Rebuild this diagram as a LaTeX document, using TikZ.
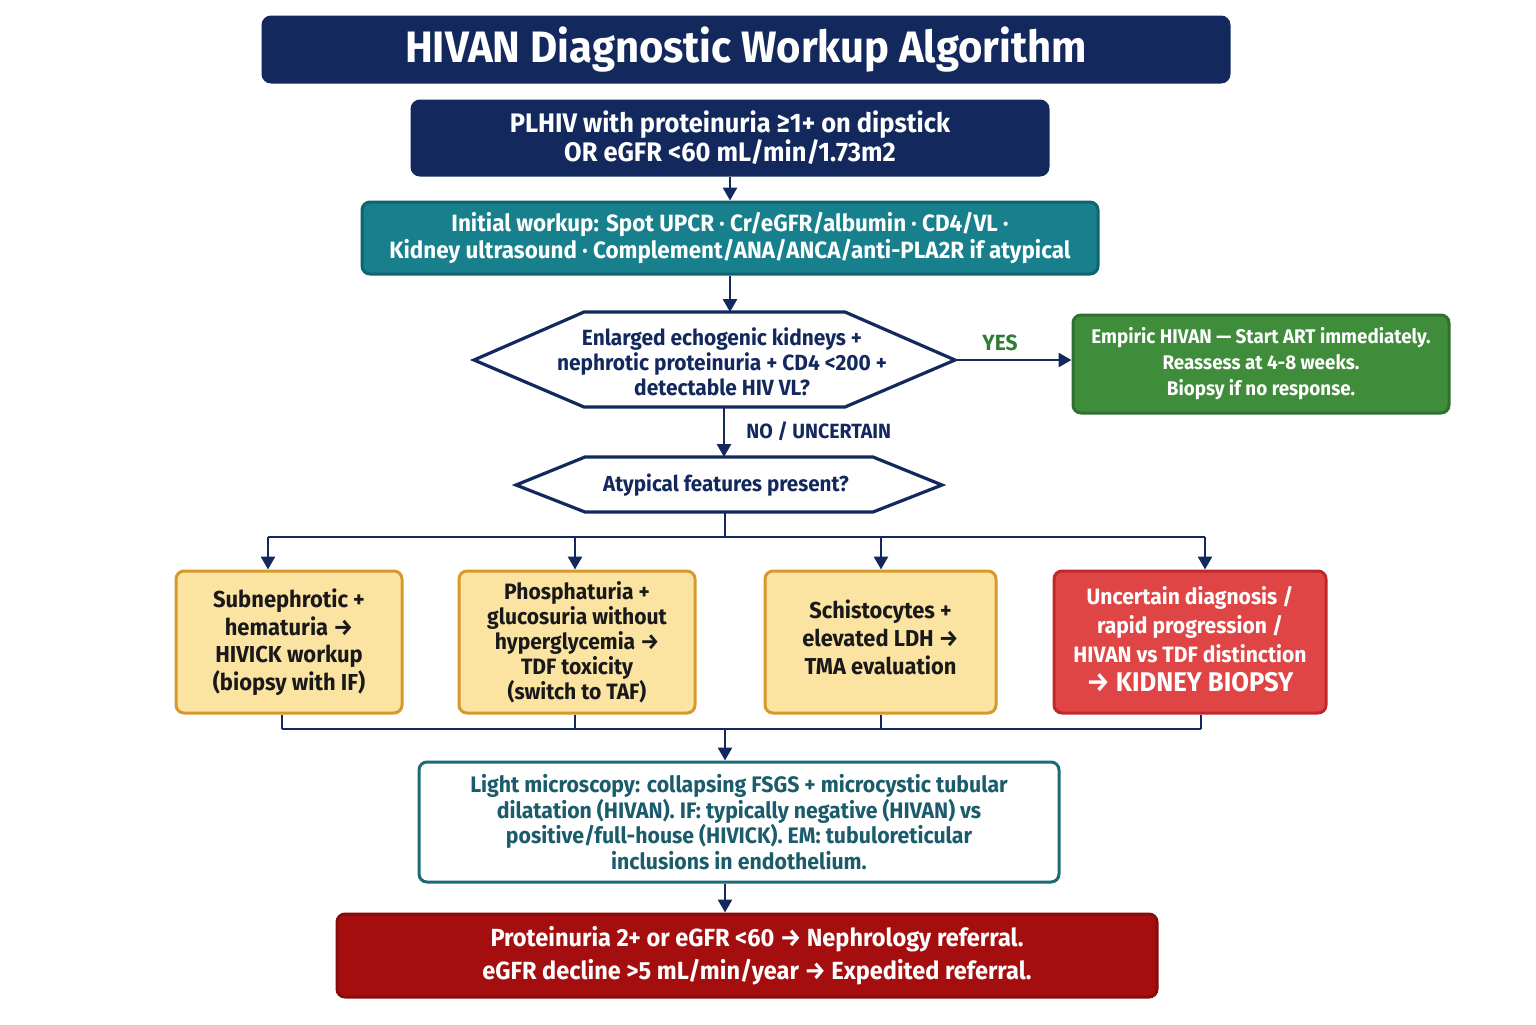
\documentclass[tikz,border=0pt]{standalone}
\usepackage{fontspec}
\setmainfont{Fira Sans}[FakeStretch=0.95]
\usetikzlibrary{arrows.meta}
\definecolor{navy}{HTML}{13295E}
\definecolor{tealf}{HTML}{17808C}
\definecolor{teald}{HTML}{0F6470}
\definecolor{greenf}{HTML}{3F8C3A}
\definecolor{greend}{HTML}{2E7030}
\definecolor{yelf}{HTML}{FBE3A2}
\definecolor{yeld}{HTML}{D69A2C}
\definecolor{redf}{HTML}{E04545}
\definecolor{redd}{HTML}{C0282A}
\definecolor{dredf}{HTML}{A50E0E}
\definecolor{dredd}{HTML}{8A0B0B}
\definecolor{tealtext}{HTML}{1A5C6B}
\definecolor{tealbord}{HTML}{1D6B76}
\definecolor{yesg}{HTML}{2E7D32}
\begin{document}
\begin{tikzpicture}[x=0.5pt,y=-0.5pt,
  box/.style={rounded corners=4pt, line width=1.5pt, align=center, inner sep=0pt, font=\bfseries},
  txt/.style={align=center, inner sep=0pt},
  arr/.style={-{Triangle[length=6.5pt,width=7pt]}, line width=1.4pt, draw=navy},
  conn/.style={line width=1.4pt, draw=navy},
  hexs/.style={line width=1.6pt, draw=navy, fill=white, line join=miter},
  lab/.style={inner sep=0pt, font=\bfseries\fontsize{10.3}{12}\selectfont}]
\fill[white] (0,0) rectangle (1536,1024);
\useasboundingbox (0,0) rectangle (1536,1024);

% title
\node[box, fill=navy, draw=navy, text=white, minimum width=483pt, minimum height=32.5pt,
  font=\bfseries\fontsize{22}{24}\selectfont] (title) at (746,49.5) {HIVAN Diagnostic Workup Algorithm};

% box 1
\node[box, fill=navy, draw=navy, text=white, minimum width=318pt, minimum height=37pt,
  font=\bfseries\fontsize{13.4}{14.5}\selectfont] (b1) at (730,138)
  {PLHIV with proteinuria ≥1+ on dipstick\\OR eGFR <60 mL/min/1.73m2};

% box 2
\node[box, fill=tealf, draw=teald, text=white, minimum width=368pt, minimum height=36pt,
  font=\bfseries\fontsize{11.8}{13.5}\selectfont] (b2) at (730,238)
  {Initial workup: Spot UPCR · Cr/eGFR/albumin · CD4/VL ·\\Kidney ultrasound · Complement/ANA/ANCA/anti-PLA2R if atypical};

% hexagon 1
\coordinate (q1w) at (474,360);
\coordinate (q1e) at (955,360);
\coordinate (q1n) at (730,312);
\coordinate (q1s) at (724,407);
\draw[hexs] (q1w) -- (584,312) -- (845,312) -- (q1e) -- (845,407) -- (584,407) -- cycle;
\node[txt, text=navy, font=\bfseries\fontsize{11}{12.5}\selectfont] (q1) at (722,362)
  {Enlarged echogenic kidneys +\\nephrotic proteinuria + CD4 <200 +\\detectable HIV VL?};

% green box
\node[box, fill=greenf, draw=greend, text=white, minimum width=188pt, minimum height=49pt,
  font=\bfseries\fontsize{9.9}{13}\selectfont] (g) at (1261,364)
  {Empiric HIVAN — Start ART immediately.\\Reassess at 4-8 weeks.\\Biopsy if no response.};

% hexagon 2
\coordinate (q2w) at (516,485);
\coordinate (q2e) at (942,485);
\coordinate (q2n) at (724,457);
\coordinate (q2s) at (725,512);
\draw[hexs] (q2w) -- (585,457) -- (873,457) -- (q2e) -- (873,512) -- (585,512) -- cycle;
\node[txt, text=navy, font=\bfseries\fontsize{10.85}{12.5}\selectfont] (q2) at (726,485)
  {Atypical features present?};

% row of four boxes
\node[box, fill=yelf, draw=yeld, text=black!90, minimum width=113pt, minimum height=71pt,
  font=\bfseries\fontsize{11.55}{13.75}\selectfont] (ba) at (289,642)
  {Subnephrotic +\\hematuria →\\HIVICK workup\\(biopsy with IF)};
\node[box, fill=yelf, draw=yeld, text=black!90, minimum width=118pt, minimum height=71pt,
  font=\bfseries\fontsize{11.1}{12.5}\selectfont] (bb) at (577,642)
  {Phosphaturia +\\glucosuria without\\hyperglycemia →\\TDF toxicity\\(switch to TAF)};
\node[box, fill=yelf, draw=yeld, minimum width=115.5pt, minimum height=71pt] (bc) at (880.5,642) {};
\node[txt, text=black!90, font=\bfseries\fontsize{11.5}{14}\selectfont] (bct) at (880.5,637)
  {Schistocytes +\\elevated LDH →\\TMA evaluation};
\node[box, fill=redf, draw=redd, minimum width=136pt, minimum height=71pt] (bd) at (1190,642) {};
\node[txt, text=white, font=\bfseries\fontsize{11.1}{14.5}\selectfont] (bdt) at (1190,639.5)
  {Uncertain diagnosis /\\rapid progression /\\HIVAN vs TDF distinction\\{\fontsize{13.5}{15}\selectfont → KIDNEY BIOPSY}};

% box E
\node[box, fill=white, draw=tealbord, text=tealtext, minimum width=320pt, minimum height=60pt,
  font=\bfseries\fontsize{11.2}{12.8}\selectfont] (be) at (739,822)
  {Light microscopy: collapsing FSGS + microcystic tubular\\dilatation (HIVAN). IF: typically negative (HIVAN) vs\\positive/full-house (HIVICK). EM: tubuloreticular\\inclusions in endothelium.};

% box F
\node[box, fill=dredf, draw=dredd, text=white, minimum width=410pt, minimum height=41.5pt,
  font=\bfseries\fontsize{12.4}{16.5}\selectfont] (bf) at (747,955.5)
  {\hspace*{10pt}Proteinuria 2+ or eGFR <60 → Nephrology referral.\\\hspace*{10pt}eGFR decline >5 mL/min/year → Expedited referral.};

% connectors
\draw[arr] (b1) -- (b2);
\draw[arr] (b2.south -| q1n) -- (q1n);
\draw[arr] (q1e) -- (g.west |- q1e);
\node[lab, text=yesg, font=\bfseries\fontsize{11}{12}\selectfont] (yes) at (1000,343) {YES};
\draw[arr] (q1s) -- (q2n);
\node[lab, text=navy, anchor=west] (no) at (746,431) {NO / UNCERTAIN};

\coordinate (busA) at (268,537);
\coordinate (busB) at (575,537);
\coordinate (busC) at (881,537);
\coordinate (busD) at (1205,537);
\draw[conn] (q2s) -- (q2s |- busA);
\draw[conn] (busA) -- (busD);
\draw[arr] (busA) -- (busA |- ba.north);
\draw[arr] (busB) -- (busB |- bb.north);
\draw[arr] (busC) -- (busC |- bc.north);
\draw[arr] (busD) -- (busD |- bd.north);

\coordinate (lowA) at (282,729);
\coordinate (lowB) at (575,729);
\coordinate (lowC) at (881,729);
\coordinate (lowD) at (1201,729);
\coordinate (lowM) at (725,729);
\draw[conn] (lowA |- ba.south) -- (lowA);
\draw[conn] (lowB |- bb.south) -- (lowB);
\draw[conn] (lowC |- bc.south) -- (lowC);
\draw[conn] (lowD |- bd.south) -- (lowD);
\draw[conn] (lowA) -- (lowD);
\draw[arr] (lowM) -- (lowM |- be.north);
\draw[arr] (be.south -| lowM) -- (lowM |- bf.north);
\end{tikzpicture}
\end{document}
